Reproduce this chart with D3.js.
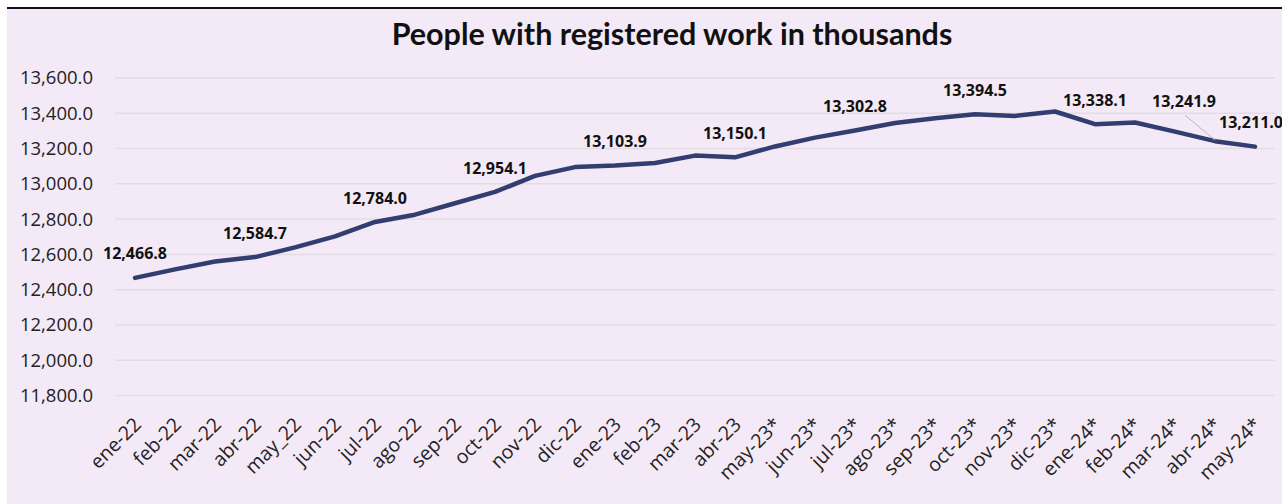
<!DOCTYPE html>
<html>
<head>
<meta charset="utf-8">
<script src="https://cdn.jsdelivr.net/npm/d3@7"></script>
<style>
  html, body { margin: 0; padding: 0; background: #ffffff; }
  svg { display: block; font-family: "Open Sans", sans-serif; }
</style>
</head>
<body>
<div id="chart"></div>
<script>
// months shown on the x axis
const months = [
    "ene-22", "feb-22", "mar-22", "abr-22", "may_22", "jun-22", "jul-22", "ago-22",
    "sep-22", "oct-22", "nov-22", "dic-22", "ene-23", "feb-23", "mar-23", "abr-23",
    "may-23*", "jun-23*", "jul-23*", "ago-23*", "sep-23*", "oct-23*", "nov-23*",
    "dic-23*", "ene-24*", "feb-24*", "mar-24*", "abr-24*", "may-24*"
];

// people with registered work, thousands
const workers = [
    12466.8, 12515, 12560, 12584.7, 12640, 12702, 12784.0, 12825,
    12890, 12954.1, 13045, 13095, 13103.9, 13118, 13160, 13150.1,
    13212, 13262, 13302.8, 13345, 13372, 13394.5, 13385,
    13410, 13338.1, 13348, 13296, 13241.9, 13211.0
];

// months that carry a data label
const labelled = [0, 3, 6, 9, 12, 15, 18, 21, 24, 27, 28];

const yTicks = [11800, 12000, 12200, 12400, 12600, 12800, 13000, 13200, 13400, 13600];

const title = "People with registered work in thousands";

const width = 1282;
const height = 504;
const plotLeft = 115;
const plotRight = 1275;
const plotTop = 78;
const plotBottom = 395.5;

const svg = d3.select("#chart")
    .append("svg")
    .attr("width", width)
    .attr("height", height);

// chart area background + top border
svg.append("rect")
    .attr("x", 7).attr("y", 8)
    .attr("width", width - 7).attr("height", height - 8)
    .attr("fill", "#f4e9f6");
svg.append("line")
    .attr("x1", 7).attr("x2", width)
    .attr("y1", 8).attr("y2", 8)
    .attr("stroke", "#111").attr("stroke-width", 2);

const x = d3.scalePoint()
    .domain(months)
    .range([plotLeft, plotRight])
    .padding(0.5);

const y = d3.scaleLinear()
    .domain([11800, 13600])
    .range([plotBottom, plotTop]);

// gridlines
svg.append("g")
    .selectAll("line")
    .data(yTicks)
    .join("line")
    .attr("x1", plotLeft).attr("x2", plotRight)
    .attr("y1", d => y(d)).attr("y2", d => y(d))
    .attr("stroke", "#e2dde3")
    .attr("stroke-width", 1.5);

// y axis
const yAxis = svg.append("g")
    .attr("transform", `translate(${plotLeft - 22},0)`)
    .call(d3.axisLeft(y).tickValues(yTicks).tickSize(0).tickPadding(0)
        .tickFormat(d3.format(",.1f")));
yAxis.select(".domain").remove();
yAxis.selectAll("text")
    .attr("font-family", "'Open Sans', sans-serif")
    .attr("font-size", 18.5)
    .attr("fill", "#222");

// x axis
const xAxis = svg.append("g")
    .attr("transform", `translate(2,421)`)
    .call(d3.axisBottom(x).tickSize(0).tickPadding(0));
xAxis.select(".domain").remove();
xAxis.selectAll("text")
    .attr("y", 0)
    .attr("dy", "0.35em")
    .attr("text-anchor", "end")
    .attr("transform", "rotate(-45)")
    .attr("font-family", "'Open Sans', sans-serif")
    .attr("font-size", 19.5)
    .attr("fill", "#222");

// line
const line = d3.line()
    .x((d, i) => x(months[i]))
    .y(d => y(d));

svg.append("path")
    .datum(workers)
    .attr("d", line)
    .attr("fill", "none")
    .attr("stroke", "#323e70")
    .attr("stroke-width", 4.5)
    .attr("stroke-linejoin", "round")
    .attr("stroke-linecap", "round");

// data labels (abr-24 is pushed up-left with a leader line)
const fmt = d3.format(",.1f");
const labels = svg.append("g")
    .attr("font-family", "'Open Sans', sans-serif")
    .attr("font-weight", "bold")
    .attr("font-size", 16)
    .attr("fill", "#111")
    .attr("text-anchor", "middle");

labelled.forEach(i => {
    const px = x(months[i]);
    const py = y(workers[i]);
    let lx = px, ly = py - 24;
    if (months[i] === "abr-24*") {
        lx = px - 31;
        ly = py - 40;
        svg.append("line")
            .attr("x1", px - 30).attr("y1", ly + 14)
            .attr("x2", px).attr("y2", py - 1)
            .attr("stroke", "#b8b8b8")
            .attr("stroke-width", 1);
    }
    if (months[i] === "may-24*") {
        lx = px - 4;
    }
    labels.append("text")
        .attr("x", lx)
        .attr("y", ly)
        .attr("dy", "0.35em")
        .text(fmt(workers[i]));
});

// title
svg.append("text")
    .attr("x", 672)
    .attr("y", 45)
    .attr("text-anchor", "middle")
    .attr("font-family", "Lato, sans-serif")
    .attr("font-weight", "bold")
    .attr("font-size", 30.5)
    .attr("fill", "#111")
    .text(title);
</script>
</body>
</html>
